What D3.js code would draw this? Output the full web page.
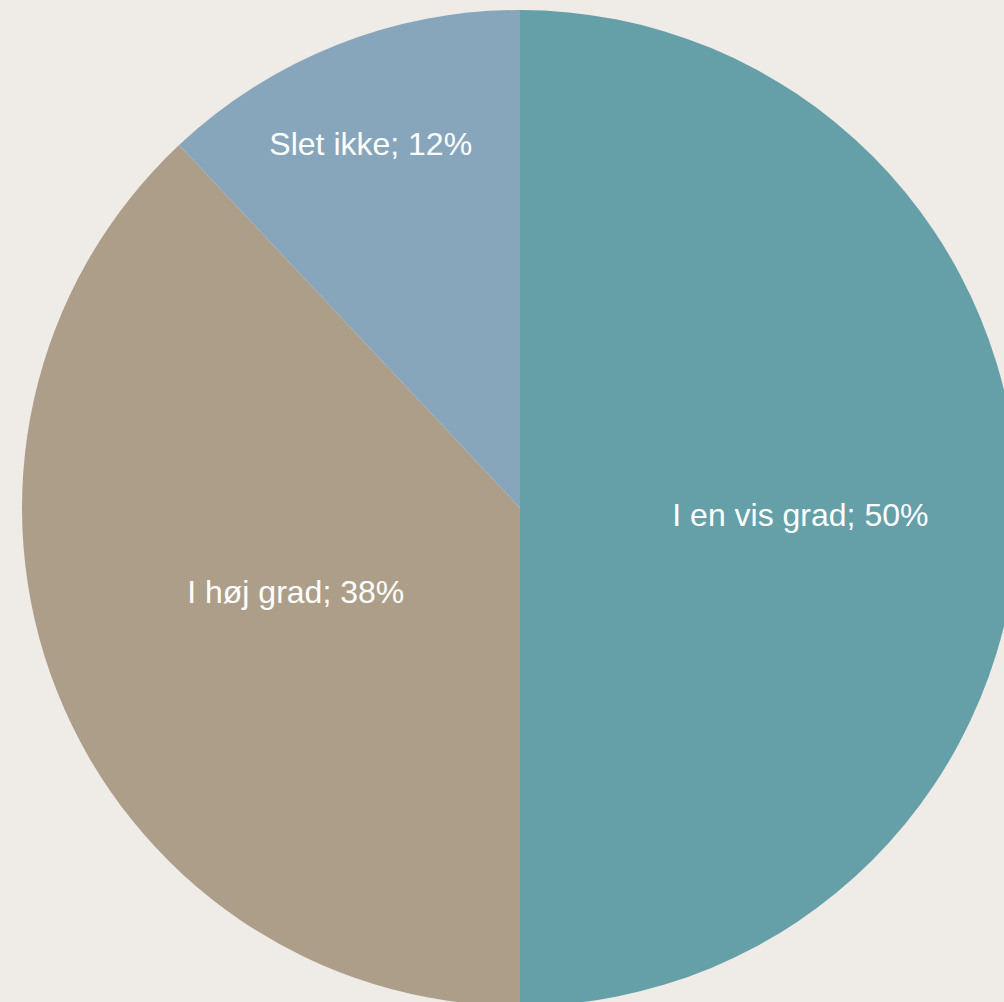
<!DOCTYPE html>
<html>
<head>
<meta charset="utf-8">
<script src="https://cdn.jsdelivr.net/npm/d3@7"></script>
<style>
  html, body { margin: 0; padding: 0; background: #efebe7; overflow: hidden; }
  svg { display: block; }
</style>
</head>
<body>
<svg id="chart" width="1004" height="1002"></svg>
<script>
// Survey answers, clockwise from 12 o'clock
const categories = ["I en vis grad", "I høj grad", "Slet ikke"];
const values = [50, 38, 12];
const colors = ["#65a0a8", "#ad9e8a", "#87a6bb"];

const width = 1004, height = 1002;
const cx = 520, cy = 508, radius = 498;

// Label placement: distance from the centre as a share of the radius,
// plus a small pixel nudge so each label sits well inside its slice
const labelRadius = [0.563, 0.48, 0.787];
const labelNudge = [[0, 7], [-2, -4], [-5, 0]];

const svg = d3.select("#chart");
svg.append("rect").attr("width", width).attr("height", height).attr("fill", "#efebe7");

const g = svg.append("g").attr("transform", `translate(${cx},${cy})`);

const data = categories.map((c, i) => ({ name: c, value: values[i], color: colors[i], i }));

const pie = d3.pie().value(d => d.value).sort(null);
const arcs = pie(data);
const arc = d3.arc().innerRadius(0).outerRadius(radius);

g.selectAll("path.slice")
  .data(arcs)
  .join("path")
  .attr("class", "slice")
  .attr("d", arc)
  .attr("fill", d => d.data.color);

g.selectAll("text.label")
  .data(arcs)
  .join("text")
  .attr("class", "label")
  .attr("transform", d => {
    const a = (d.startAngle + d.endAngle) / 2;
    const r = radius * labelRadius[d.data.i];
    const [nx, ny] = labelNudge[d.data.i];
    return `translate(${Math.sin(a) * r + nx},${-Math.cos(a) * r + ny})`;
  })
  .attr("text-anchor", "middle")
  .attr("dy", "0.35em")
  .attr("fill", "#ffffff")
  .style("font-family", "'Liberation Sans', Arial, sans-serif")
  .style("font-size", "32px")
  .text(d => `${d.data.name}; ${d.data.value}%`);
</script>
</body>
</html>
